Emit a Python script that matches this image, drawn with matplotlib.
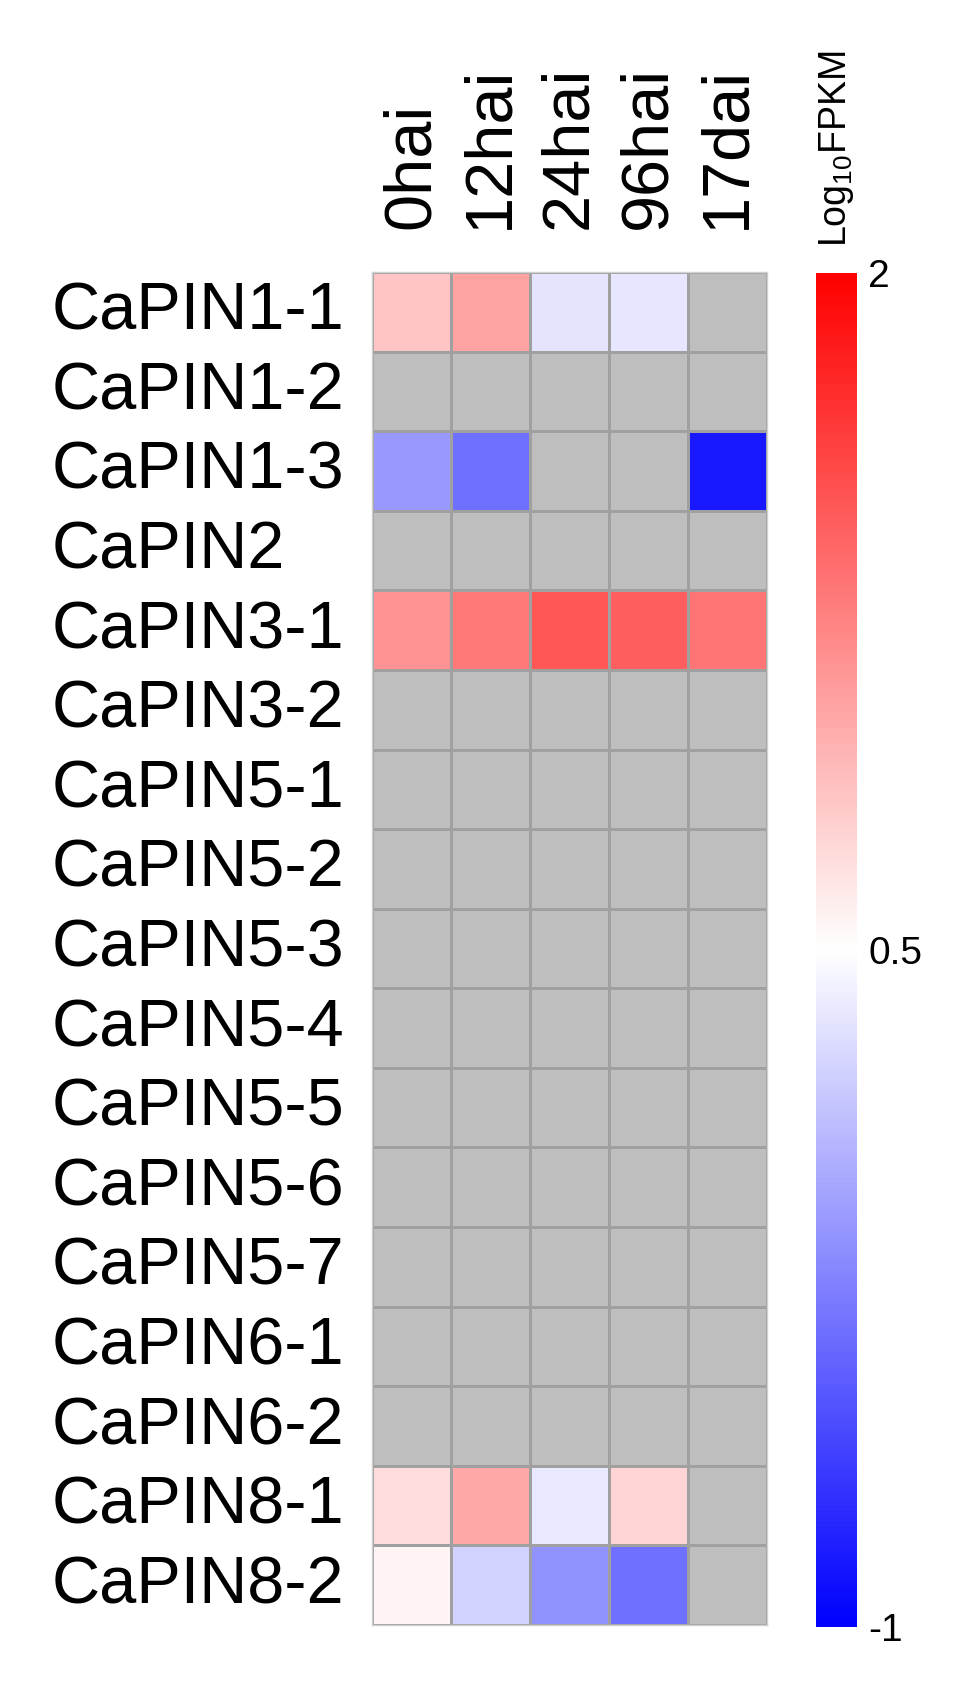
import numpy as np
import matplotlib
matplotlib.use('Agg')
import matplotlib.pyplot as plt
import matplotlib.transforms as mtransforms
from matplotlib.colors import LinearSegmentedColormap

plt.rcParams['font.family'] = ['Liberation Sans', 'DejaVu Sans']
plt.rcParams['mathtext.default'] = 'regular'

genes = ['CaPIN1-1', 'CaPIN1-2', 'CaPIN1-3', 'CaPIN2', 'CaPIN3-1', 'CaPIN3-2',
         'CaPIN5-1', 'CaPIN5-2', 'CaPIN5-3', 'CaPIN5-4', 'CaPIN5-5', 'CaPIN5-6',
         'CaPIN5-7', 'CaPIN6-1', 'CaPIN6-2', 'CaPIN8-1', 'CaPIN8-2']
stages = ['0hai', '12hai', '24hai', '96hai', '17dai']
nan = np.nan
# log10 FPKM, NaN = not expressed (grey)
pin1_1 = [0.84, 1.04, 0.34, 0.35, nan]
pin1_2 = [nan, nan, nan, nan, nan]
pin1_3 = [-0.10, -0.34, nan, nan, -0.85]
pin2 = [nan, nan, nan, nan, nan]
pin3_1 = [1.14, 1.29, 1.49, 1.44, 1.31]
pin3_2 = [nan] * 5
pin5_1 = [nan] * 5
pin5_2 = [nan] * 5
pin5_3 = [nan] * 5
pin5_4 = [nan] * 5
pin5_5 = [nan] * 5
pin5_6 = [nan] * 5
pin5_7 = [nan] * 5
pin6_1 = [nan] * 5
pin6_2 = [nan] * 5
pin8_1 = [0.71, 1.01, 0.36, 0.75, nan]
pin8_2 = [0.56, 0.24, -0.14, -0.34, nan]

vals = np.array([pin1_1, pin1_2, pin1_3, pin2, pin3_1, pin3_2, pin5_1, pin5_2,
                 pin5_3, pin5_4, pin5_5, pin5_6, pin5_7, pin6_1, pin6_2,
                 pin8_1, pin8_2])

cmap = LinearSegmentedColormap.from_list('bwr2', ['#0000FF', '#FFFFFF', '#FF0000'])
cmap.set_bad('#BEBEBE')

W, H = 968, 1688
fig = plt.figure(figsize=(W / 100, H / 100), dpi=100)
ax = fig.add_axes([372 / W, 1 - 1625 / H, 395 / W, 1353 / H])
m = np.ma.masked_invalid(vals)
mesh = ax.pcolormesh(m, cmap=cmap, vmin=-1, vmax=2, edgecolors='#a0a0a0', linewidth=0.8)
ax.set_xlim(0, len(stages))
ax.set_ylim(len(genes), 0)
ax.set_xticks(np.arange(len(stages)) + 0.5)
ax.set_xticklabels(stages, rotation=90, fontsize=48)
ax.xaxis.tick_top()
ax.set_yticks(np.arange(len(genes)) + 0.5)
ax.set_yticklabels(genes, fontsize=48, ha='left')
ax.tick_params(axis='x', length=0, pad=31)
ax.tick_params(axis='y', length=0, pad=(372 - 52) * 0.72)
shift = mtransforms.ScaledTranslation(0, 6 / 100, fig.dpi_scale_trans)
for lab in ax.get_yticklabels():
    lab.set_transform(lab.get_transform() + shift)
for s in ax.spines.values():
    s.set_color('#d0d0d0')
    s.set_linewidth(1)

cax = fig.add_axes([816 / W, 1 - 1627 / H, 41 / W, 1354 / H])
cb = fig.colorbar(mesh, cax=cax)
cb.set_ticks([-1, 0.5, 2])
cb.set_ticklabels(['-1', '0.5', '2'])
cb.ax.tick_params(length=0, labelsize=28, pad=8)
cb.outline.set_visible(False)
fig.text(836 / W, 1 - 247 / H, 'Log$_{10}$FPKM', rotation=90, ha='center', va='bottom', fontsize=27)

fig.savefig('out.png', dpi=100)
